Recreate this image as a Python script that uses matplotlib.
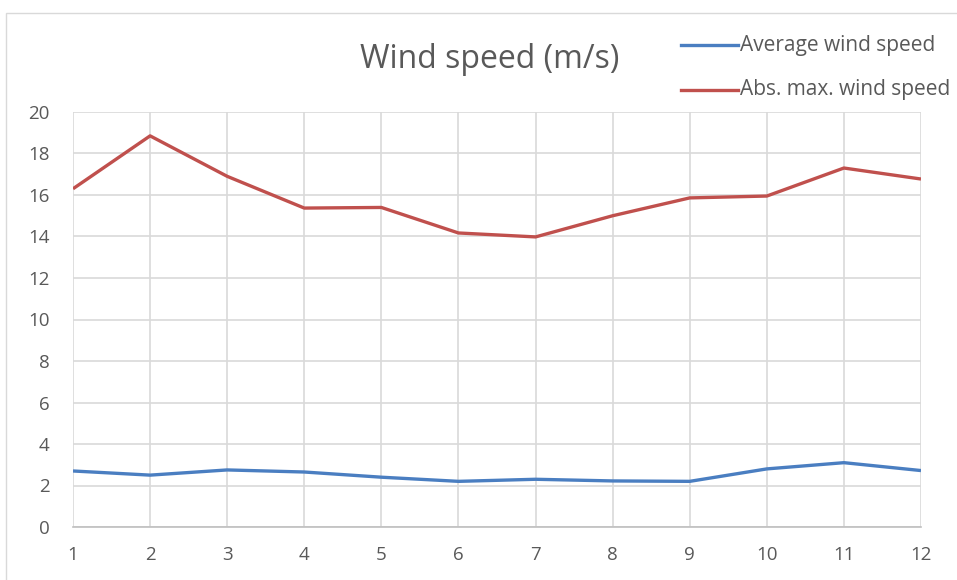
import matplotlib
matplotlib.use("Agg")
import matplotlib.pyplot as plt
from matplotlib.lines import Line2D
from matplotlib.patches import Rectangle

months = [1, 2, 3, 4, 5, 6, 7, 8, 9, 10, 11, 12]
avg_speed = [2.7, 2.5, 2.75, 2.65, 2.4, 2.2, 2.3, 2.22, 2.2, 2.8, 3.1, 2.72]
max_speed = [16.3, 18.85, 16.9, 15.37, 15.4, 14.17, 13.98, 15.0, 15.86, 15.95, 17.3, 16.77]
y_ticks = [0, 2, 4, 6, 8, 10, 12, 14, 16, 18, 20]

plt.rcParams['font.family'] = ['Open Sans', 'DejaVu Sans']

fig = plt.figure(figsize=(9.57, 5.8), dpi=100)
ax = fig.add_axes([73/957, 1-527/580, (921-73)/957, (527-112)/580])

blue = '#4A7EC1'
red = '#C0504D'
ax.plot(months, avg_speed, color=blue, lw=2.4, solid_capstyle='butt', zorder=3)
ax.plot(months, max_speed, color=red, lw=2.4, solid_capstyle='butt', zorder=3)

ax.set_xlim(1, 12)
ax.set_ylim(0, 20)
ax.set_xticks(months)
ax.set_yticks(y_ticks)
ax.grid(True, color='#D9D9D9', lw=1.2)
ax.set_axisbelow(True)
for s in ['top', 'right', 'left']:
    ax.spines[s].set_visible(False)
ax.spines['bottom'].set_color('#BFBFBF')
ax.spines['bottom'].set_linewidth(1.2)
ax.tick_params(length=0, labelsize=13.5, labelcolor='#595959')
ax.tick_params(axis='x', pad=14)
ax.tick_params(axis='y', pad=17)

fig.text(490/957, 1-60/580, 'Wind speed (m/s)', ha='center', va='center',
         fontsize=23, color='#595959')

# legend
for ypix, col, lab in [(45, blue, 'Average wind speed'), (90, red, 'Abs. max. wind speed')]:
    yf = 1 - ypix/580
    fig.add_artist(Line2D([681/957, 738/957], [yf, yf], color=col, lw=2.4,
                          transform=fig.transFigure))
    fig.text(740/957, yf, lab, ha='left', va='center', fontsize=15, color='#595959')

# chart frame
fig.add_artist(Rectangle((6/957, -0.01), 1, 1 - 13/580 + 0.01, transform=fig.transFigure,
                         fill=False, edgecolor='#D9D9D9', lw=1.0))

fig.savefig('out.png', dpi=100)
